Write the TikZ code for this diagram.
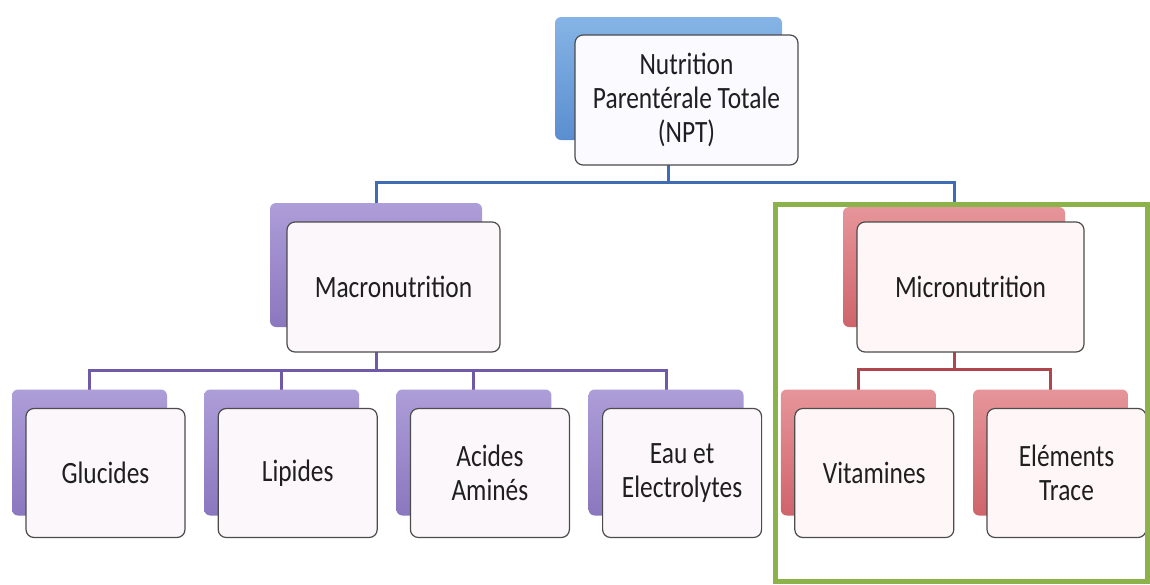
\documentclass[tikz,border=0pt]{standalone}
\usepackage{fontspec}
\setmainfont{Carlito}[FakeStretch=0.82]
\usepackage{tikz}
\usetikzlibrary{backgrounds}

\definecolor{blueA}{HTML}{86B4E6}
\definecolor{blueB}{HTML}{5B8ED0}
\definecolor{purpA}{HTML}{AD9DD8}
\definecolor{purpB}{HTML}{8B77BE}
\definecolor{redA}{HTML}{E6959A}
\definecolor{redB}{HTML}{CF646B}
\definecolor{blueL}{HTML}{3F6CB4}
\definecolor{purpL}{HTML}{6E5AA9}
\definecolor{redL}{HTML}{B0454D}
\definecolor{frameG}{HTML}{8CB24A}

\begin{document}
\begin{tikzpicture}[x=1pt,y=-1pt,
  back/.style={rounded corners=6pt, inner sep=0pt, minimum width=155pt, minimum height=126pt},
  bback/.style={back, top color=blueA, bottom color=blueB},
  pback/.style={back, top color=purpA, bottom color=purpB},
  rback/.style={back, top color=redA, bottom color=redB},
  front/.style={draw=black!70, line width=1.2pt, rounded corners=8pt, align=center,
    inner sep=2pt, minimum width=159pt, minimum height=129pt,
    font=\fontsize{31}{34}\selectfont, text=black!88},
  bfront/.style={front, fill=blue!2},
  pfront/.style={front, fill=violet!3},
  rfront/.style={front, fill=red!3},
  link/.style={line width=3pt},
  bluelink/.style={link, draw=blueL},
  plink/.style={link, draw=purpL},
  rlink/.style={link, draw=redL}]
  \useasboundingbox (0,0) rectangle (1150,584);

  % top level
  \node[bback, minimum width=227pt, minimum height=123pt] (npt-b) at (668.5,78.5) {};
  \node[bfront, minimum width=223pt, minimum height=130pt] (npt) at ([shift={(18,21.5)}]npt-b.center)
    {Nutrition\\Parentérale Totale\\(NPT)};

  % second level
  \node[pback, minimum width=212pt, minimum height=124pt] (macro-b) at (376,265) {};
  \node[pfront, minimum width=213pt, minimum height=130pt] (macro) at ([shift={(17.5,22)}]macro-b.center) {Macronutrition};
  \node[rback, minimum width=222pt, minimum height=120pt] (micro-b) at (954,267) {};
  \node[rfront, minimum width=227pt, minimum height=130pt] (micro) at ([shift={(16.5,20)}]micro-b.center) {Micronutrition};

  % third level
  \foreach \i/\nm/\txt in {0/glu/Glucides, 1/lip/Lipides, 2/aa/{Acides\\Aminés}, 3/eau/{Eau et\\Electrolytes}} {
    \node[pback] (\nm-b) at (89.5+192.2*\i,452.5) {};
    \node[pfront] (\nm) at ([shift={(16,20.5)}]\nm-b.center) {\txt};
  }
  \foreach \i/\nm/\txt in {4/vit/Vitamines, 5/trace/{Eléments\\Trace}} {
    \node[rback] (\nm-b) at (89.5+192.2*\i,452.5) {};
    \node[rfront] (\nm) at ([shift={(16,20.5)}]\nm-b.center) {\txt};
  }

  \coordinate (bus0) at (0,182);
  \coordinate (bus1) at (0,370);
  \coordinate (bus2) at (0,369);

  \begin{scope}[on background layer]
    \draw[bluelink] (npt-b.center) -- (npt-b.center |- bus0) -| (macro-b.center);
    \draw[bluelink] (npt-b.center |- bus0) -| (micro-b.center);
    \foreach \nm in {glu,lip,aa,eau}
      \draw[plink] (macro-b.center) -- (macro-b.center |- bus1) -| (\nm-b.center);
    \foreach \nm in {vit,trace}
      \draw[rlink] (micro-b.center) -- (micro-b.center |- bus2) -| (\nm-b.center);
  \end{scope}

  % highlight frame
  \draw[frameG, line width=5pt] (775.5,204.5) rectangle (1147.5,581.5);
\end{tikzpicture}
\end{document}
